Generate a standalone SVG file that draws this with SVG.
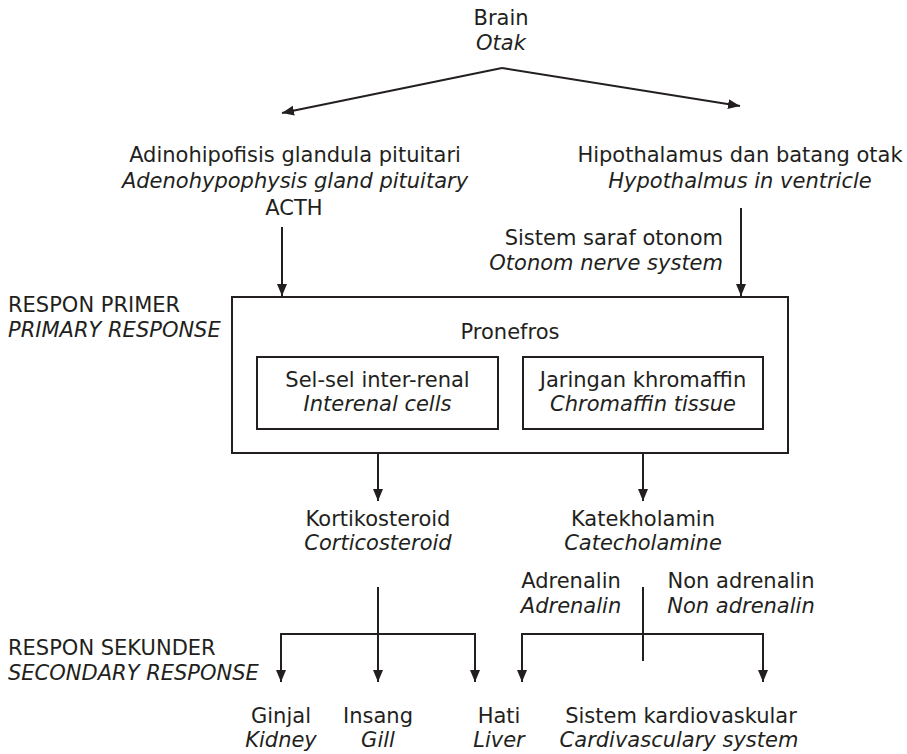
<svg xmlns="http://www.w3.org/2000/svg" width="907" height="754" viewBox="0 0 907 754">
<defs>
<marker id="ah" markerUnits="userSpaceOnUse" markerWidth="12" markerHeight="10" refX="12" refY="5" orient="auto">
<path d="M0,0 L12,5 L0,10 z" fill="#231f20"/>
</marker>
<style>
text{font-family:"DejaVu Sans",sans-serif;font-size:21px;fill:#231f20}
.i{font-style:italic}
.m{text-anchor:middle}
.e{text-anchor:end}
.ln{stroke:#231f20;stroke-width:2;fill:none}
.ar{stroke:#231f20;stroke-width:2;fill:none;marker-end:url(#ah)}
.bx{stroke:#231f20;stroke-width:2;fill:none}
</style>
</defs>
<rect width="907" height="754" fill="#ffffff"/>

<g id="brain">
<text x="501" y="25" class="m">Brain</text>
<text x="501" y="50" class="m i">Otak</text>
</g>
<g id="adeno">
<text x="295" y="162" class="m">Adinohipofisis glandula pituitari</text>
<text x="295" y="188" class="m i">Adenohypophysis gland pituitary</text>
<text x="294" y="215" class="m">ACTH</text>
</g>
<g id="hypothalamus">
<text x="740" y="162" class="m">Hipothalamus dan batang otak</text>
<text x="740" y="188" class="m i">Hypothalmus in ventricle</text>
</g>
<g id="saraf">
<text x="723" y="245" class="e">Sistem saraf otonom</text>
<text x="723" y="270" class="e i">Otonom nerve system</text>
</g>
<g id="respon-primer">
<text x="8" y="312">RESPON PRIMER</text>
<text x="8" y="337" class="i">PRIMARY RESPONSE</text>
</g>
<g id="pronefros">
<rect x="232" y="297" width="556" height="156" class="bx"/>
<text x="510" y="339" class="m">Pronefros</text>
</g>
<g id="interrenal">
<rect x="257" y="357" width="241" height="72" class="bx"/>
<text x="377.5" y="387" class="m">Sel-sel inter-renal</text>
<text x="377.5" y="411" class="m i">Interenal cells</text>
</g>
<g id="chromaffin">
<rect x="523" y="357" width="240" height="72" class="bx"/>
<text x="643" y="387" class="m">Jaringan khromaffin</text>
<text x="643" y="411" class="m i">Chromaffin tissue</text>
</g>
<g id="kortikosteroid">
<text x="378" y="526" class="m">Kortikosteroid</text>
<text x="378" y="550" class="m i">Corticosteroid</text>
</g>
<g id="katekholamin">
<text x="643" y="526" class="m">Katekholamin</text>
<text x="643" y="550" class="m i">Catecholamine</text>
</g>
<g id="adrenalin">
<text x="571" y="588" class="m">Adrenalin</text>
<text x="571" y="613" class="m i">Adrenalin</text>
</g>
<g id="nonadrenalin">
<text x="741" y="588" class="m">Non adrenalin</text>
<text x="741" y="613" class="m i">Non adrenalin</text>
</g>
<g id="respon-sekunder">
<text x="8" y="655">RESPON SEKUNDER</text>
<text x="8" y="680" class="i">SECONDARY RESPONSE</text>
</g>
<g id="ginjal">
<text x="281" y="723" class="m">Ginjal</text>
<text x="281" y="747" class="m i">Kidney</text>
</g>
<g id="insang">
<text x="378" y="723" class="m">Insang</text>
<text x="378" y="747" class="m i">Gill</text>
</g>
<g id="hati">
<text x="499" y="723" class="m">Hati</text>
<text x="499" y="747" class="m i">Liver</text>
</g>
<g id="kardio">
<text x="681" y="723" class="m">Sistem kardiovaskular</text>
<text x="679" y="747" class="m i">Cardivasculary system</text>
</g>

<g id="connectors">
<path d="M502,68 L282,113" class="ar"/>
<path d="M502,68 L740,106" class="ar"/>
<path d="M282,227 L282,296" class="ar"/>
<path d="M741,208 L741,296" class="ar"/>
<path d="M378,453 L378,501" class="ar"/>
<path d="M643,453 L643,501" class="ar"/>
<path d="M378,587 L378,682" class="ar"/>
<path d="M281,634 L475,634" class="ln"/>
<path d="M281,633 L281,682" class="ar"/>
<path d="M475,633 L475,682" class="ar"/>
<path d="M643,587 L643,661" class="ln"/>
<path d="M522,634 L763,634" class="ln"/>
<path d="M522,633 L522,682" class="ar"/>
<path d="M763,633 L763,682" class="ar"/>
</g>
</svg>
